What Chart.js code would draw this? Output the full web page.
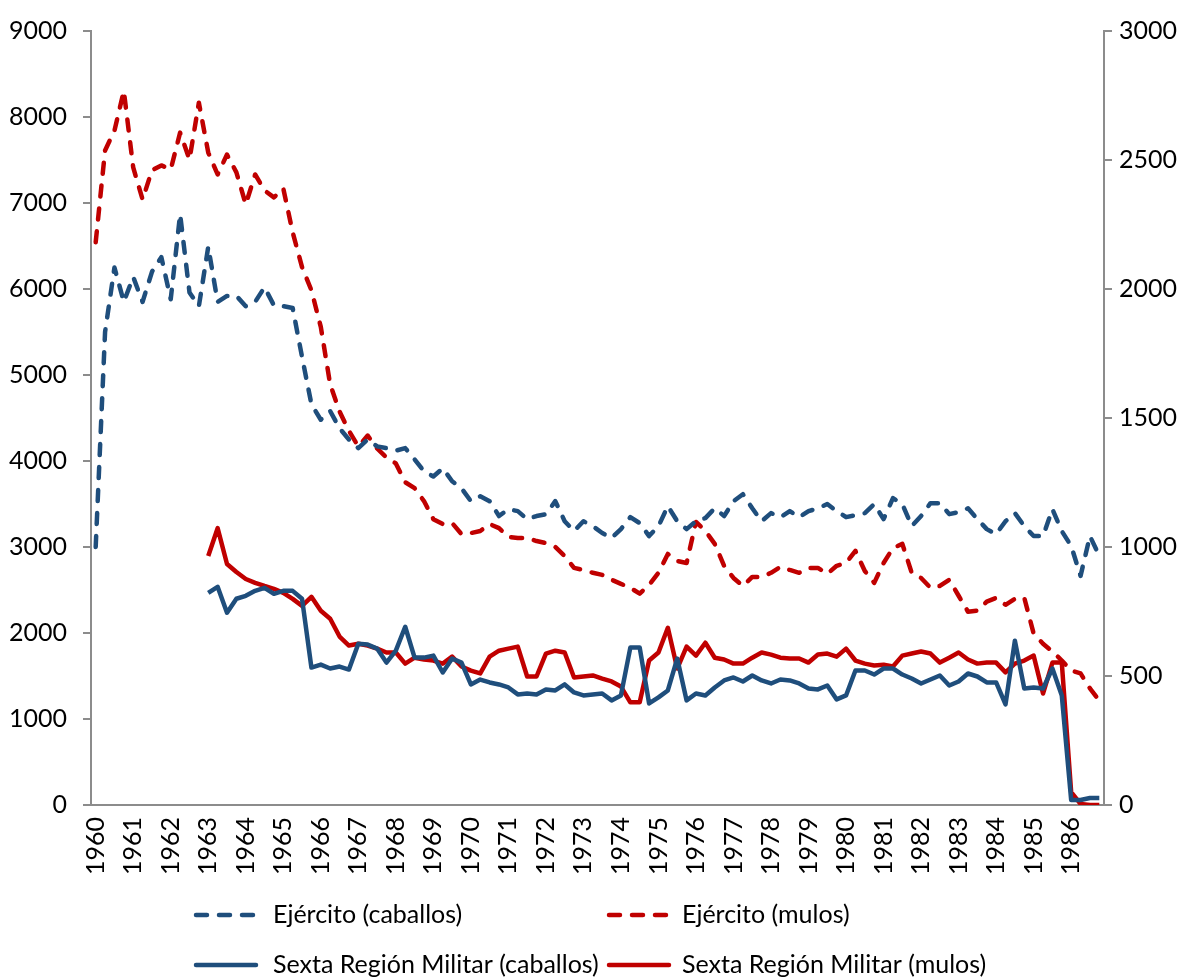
<!DOCTYPE html>
<html lang="es">
<head>
  <meta charset="UTF-8" />
  <title>Caballos y mulos</title>
  <script src="https://cdn.jsdelivr.net/npm/chart.js"></script>
  <style>
    body { margin: 0; background: #fff; }
    canvas { display: block; }
  </style>
</head>
<body>
  <canvas id="chart" width="1187" height="979"></canvas>
  <script>
    // quarterly data, 1960 Q1 to 1986 Q4
    const years = [1960, 1961, 1962, 1963, 1964, 1965, 1966, 1967, 1968, 1969, 1970, 1971, 1972, 1973,
      1974, 1975, 1976, 1977, 1978, 1979, 1980, 1981, 1982, 1983, 1984, 1985, 1986];

    // left axis
    const ejercitoCaballos = [
      3000, 5500, 6250, 5850, 6140, 5850, 6200, 6370, 5880, 6870,
      5960, 5800, 6490, 5850, 5920, 5920, 5800, 5850, 6020, 5810,
      5800, 5780, 5210, 4660, 4480, 4580, 4380, 4250, 4150, 4250,
      4170, 4150, 4120, 4150, 4020, 3880, 3820, 3915, 3765, 3683,
      3533, 3590, 3533, 3360, 3440, 3417, 3324, 3360, 3380, 3533,
      3300, 3185, 3300, 3243, 3162, 3104, 3208, 3347, 3278, 3127,
      3243, 3475, 3300, 3208, 3300, 3336, 3450, 3360, 3533, 3614,
      3450, 3300, 3394, 3347, 3417, 3347, 3417, 3450, 3500, 3417,
      3347, 3370, 3394, 3498, 3324, 3568, 3498, 3243, 3360, 3510,
      3510, 3382, 3405, 3450, 3324, 3208, 3150, 3300, 3394, 3243,
      3127, 3127, 3440, 3185, 3012, 2664, 3127, 2896
    ];
    // right axis
    const ejercitoMulos = [
      2181, 2537, 2614, 2768, 2471, 2347, 2460, 2479, 2463, 2606,
      2502, 2722, 2529, 2444, 2521, 2452, 2328, 2444, 2382, 2355,
      2390, 2220, 2085, 1995, 1853, 1630, 1525, 1450, 1390, 1432,
      1382, 1347, 1324, 1251, 1228, 1178, 1108, 1089, 1093, 1050,
      1054, 1062, 1089, 1073, 1039, 1035, 1035, 1023, 1015, 1000,
      965, 919, 911, 900, 892, 873, 857, 842, 819, 853,
      900, 973, 946, 938, 1097, 1062, 1012, 927, 880, 849,
      884, 884, 900, 923, 911, 900, 919, 919, 896, 927,
      938, 985, 907, 861, 938, 996, 1012, 900, 880, 842,
      849, 873, 811, 749, 753, 788, 803, 776, 799, 803,
      664, 625, 595, 560, 521, 510, 452, 405
    ];
    // left axis, series starts 1963
    const sextaCaballos = [
      null, null, null, null, null, null, null, null, null, null, null, null,
      2467, 2537, 2236, 2398, 2432, 2490, 2525, 2456, 2490, 2490,
      2398, 1598, 1633, 1587, 1610, 1575, 1876, 1865, 1819, 1656,
      1795, 2073, 1714, 1714, 1737, 1541, 1703, 1656, 1402, 1459,
      1425, 1402, 1367, 1286, 1297, 1286, 1344, 1332, 1402, 1309,
      1274, 1286, 1297, 1216, 1274, 1830, 1830, 1181, 1251, 1332,
      1703, 1216, 1297, 1274, 1367, 1448, 1483, 1436, 1506, 1448,
      1413, 1459, 1448, 1413, 1355, 1344, 1390, 1228, 1274, 1564,
      1564, 1517, 1587, 1587, 1517, 1471, 1413, 1459, 1506, 1390,
      1436, 1529, 1494, 1425, 1425, 1170, 1911, 1355, 1367, 1355,
      1587, 1274, 58, 58, 81, 81
    ];
    // right axis, series starts 1963
    const sextaMulos = [
      null, null, null, null, null, null, null, null, null, null, null, null,
      965, 1073, 934, 903, 876, 861, 849, 838, 822, 799,
      772, 807, 753, 722, 653, 618, 625, 618, 606, 591,
      591, 548, 571, 564, 560, 548, 575, 537, 521, 510,
      575, 598, 606, 614, 498, 498, 587, 598, 591, 494,
      498, 502, 490, 479, 459, 398, 398, 560, 591, 687,
      529, 614, 579, 629, 571, 564, 548, 548, 571, 591,
      583, 571, 568, 568, 552, 583, 587, 575, 606, 560,
      548, 541, 544, 537, 579, 587, 595, 587, 552, 571,
      591, 564, 548, 552, 552, 514, 548, 560, 579, 432,
      552, 552, 50, 4, 0, 0
    ];

    const labels = [];
    years.forEach(y => labels.push(String(y), '', '', ''));

    const blue = '#1f4e7c';
    const red = '#c00000';
    const axisGray = '#8c8c8c';
    const fontFamily = "Lato, 'Open Sans', sans-serif";
    const plain = v => String(v);   // no thousands separator

    // legend in two columns, drawn under the axis
    const legendPlugin = {
      id: 'twoColLegend',
      afterDraw(chart) {
        const ctx = chart.ctx;
        const spots = [
          { x: 193, tx: 273, y: 915 },
          { x: 606, tx: 682, y: 915 },
          { x: 193, tx: 273, y: 965 },
          { x: 606, tx: 682, y: 965 }
        ];
        chart.data.datasets.forEach((ds, i) => {
          const s = spots[i];
          ctx.save();
          ctx.strokeStyle = ds.borderColor;
          ctx.lineWidth = ds.borderWidth;
          ctx.lineCap = 'round';
          ctx.setLineDash(ds.borderDash || []);
          ctx.beginPath();
          ctx.moveTo(s.x + 3, s.y);
          ctx.lineTo(s.x + 63, s.y);
          ctx.stroke();
          ctx.setLineDash([]);
          ctx.fillStyle = '#000';
          ctx.font = '25px ' + fontFamily;
          ctx.textBaseline = 'middle';
          ctx.fillText(ds.label, s.tx, s.y);
          ctx.restore();
        });
      }
    };

    new Chart(document.getElementById('chart'), {
      type: 'line',
      data: {
        labels: labels,
        datasets: [
          {
            label: 'Ejército (caballos)',
            data: ejercitoCaballos,
            yAxisID: 'y',
            borderColor: blue,
            borderWidth: 4.5,
            borderDash: [11, 12],
            borderCapStyle: 'round'
          },
          {
            label: 'Ejército (mulos)',
            data: ejercitoMulos,
            yAxisID: 'y1',
            borderColor: red,
            borderWidth: 4.5,
            borderDash: [11, 12],
            borderCapStyle: 'round'
          },
          {
            label: 'Sexta Región Militar (caballos)',
            data: sextaCaballos,
            yAxisID: 'y',
            borderColor: blue,
            borderWidth: 4.5
          },
          {
            label: 'Sexta Región Militar (mulos)',
            data: sextaMulos,
            yAxisID: 'y1',
            borderColor: red,
            borderWidth: 4.5
          }
        ]
      },
      options: {
        responsive: false,
        animation: false,
        layout: { padding: { top: 26, left: 0, right: 0, bottom: 0 } },
        elements: {
          point: { radius: 0 },
          line: { tension: 0, borderJoinStyle: 'round' }
        },
        plugins: {
          legend: { display: false },
          tooltip: { enabled: false }
        },
        scales: {
          x: {
            offset: true,
            grid: { display: false, drawTicks: false },
            border: { display: true, color: axisGray, width: 2 },
            ticks: {
              autoSkip: false,
              minRotation: 90,
              maxRotation: 90,
              padding: 12,
              color: '#000',
              font: { family: fontFamily, size: 25 }
            },
            afterFit(scale) { scale.height = 174; }
          },
          y: {
            position: 'left',
            min: 0,
            max: 9000,
            grid: { drawOnChartArea: false, tickLength: 8, color: axisGray, lineWidth: 2 },
            border: { display: true, color: axisGray, width: 2 },
            ticks: {
              stepSize: 1000,
              padding: 16,
              color: '#000',
              font: { family: fontFamily, size: 25 },
              callback: plain
            },
            afterFit(scale) { scale.width = 91; }
          },
          y1: {
            position: 'right',
            min: 0,
            max: 3000,
            grid: { drawOnChartArea: false, tickLength: 8, color: axisGray, lineWidth: 2 },
            border: { display: true, color: axisGray, width: 2 },
            ticks: {
              stepSize: 500,
              padding: 7,
              color: '#000',
              font: { family: fontFamily, size: 25 },
              callback: plain
            },
            afterFit(scale) { scale.width = 83; }
          }
        }
      },
      plugins: [legendPlugin]
    });
  </script>
</body>
</html>
